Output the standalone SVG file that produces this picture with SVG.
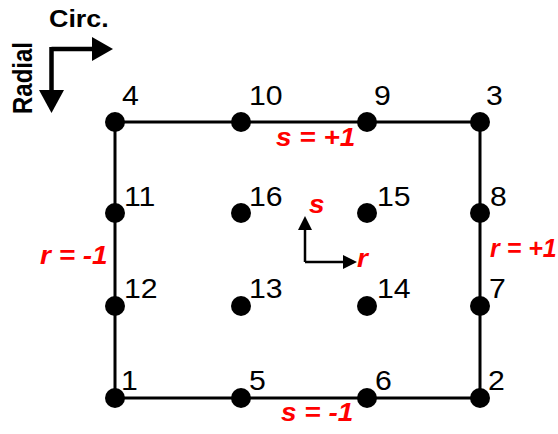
<svg xmlns="http://www.w3.org/2000/svg" width="558" height="434" viewBox="0 0 558 434">
<style>
.lbl{font-family:"Liberation Sans",Arial,sans-serif;font-size:27px;fill:#000}
.red{font-family:"Liberation Sans",Arial,sans-serif;font-size:25px;font-weight:bold;font-style:italic;fill:#f00}
.ax{font-family:"Liberation Sans",Arial,sans-serif;font-size:24px;font-weight:bold;fill:#000}
.dot{fill:#000}
.edge{stroke:#000;stroke-width:3;fill:none}
</style>
<rect width="558" height="434" fill="#fff"/>
<g id="axes">
<path d="M51.5,49 H93 M51.5,47 V91" stroke="#000" stroke-width="4.5" fill="none"/>
<polygon points="92,37 113,49 92,61" fill="#000"/>
<polygon points="39,90 51.5,113 64,90" fill="#000"/>
<text class="ax" transform="translate(49,27) scale(1.12,1)">Circ.</text>
<text class="ax" transform="translate(32,114) scale(1.12,1) rotate(-90)">Radial</text>
</g>
<g id="connectors">
<rect class="edge" x="115" y="122" width="365" height="276"/>
</g>
<g id="n1"><circle class="dot" cx="115" cy="398" r="10"/><text class="lbl" transform="translate(121,390) scale(1.12,1)">1</text></g>
<g id="n2"><circle class="dot" cx="480" cy="398" r="10"/><text class="lbl" transform="translate(488,390) scale(1.12,1)">2</text></g>
<g id="n3"><circle class="dot" cx="480" cy="122" r="10"/><text class="lbl" transform="translate(486,105) scale(1.12,1)">3</text></g>
<g id="n4"><circle class="dot" cx="115" cy="122" r="10"/><text class="lbl" transform="translate(122,105) scale(1.12,1)">4</text></g>
<g id="n5"><circle class="dot" cx="241" cy="398" r="10"/><text class="lbl" transform="translate(249,390) scale(1.12,1)">5</text></g>
<g id="n6"><circle class="dot" cx="367" cy="398" r="10"/><text class="lbl" transform="translate(375,390) scale(1.12,1)">6</text></g>
<g id="n7"><circle class="dot" cx="480" cy="306" r="10"/><text class="lbl" transform="translate(489,298) scale(1.12,1)">7</text></g>
<g id="n8"><circle class="dot" cx="480" cy="213" r="10"/><text class="lbl" transform="translate(490,206) scale(1.12,1)">8</text></g>
<g id="n9"><circle class="dot" cx="367" cy="122" r="10"/><text class="lbl" transform="translate(374,105) scale(1.12,1)">9</text></g>
<g id="n10"><circle class="dot" cx="241" cy="122" r="10"/><text class="lbl" transform="translate(249,105) scale(1.12,1)">10</text></g>
<g id="n11"><circle class="dot" cx="115" cy="213" r="10"/><text class="lbl" transform="translate(124,206) scale(1.12,1)">11</text></g>
<g id="n12"><circle class="dot" cx="115" cy="306" r="10"/><text class="lbl" transform="translate(124,298) scale(1.12,1)">12</text></g>
<g id="n13"><circle class="dot" cx="241" cy="306" r="10"/><text class="lbl" transform="translate(249,298) scale(1.12,1)">13</text></g>
<g id="n14"><circle class="dot" cx="367" cy="306" r="10"/><text class="lbl" transform="translate(377,298) scale(1.12,1)">14</text></g>
<g id="n15"><circle class="dot" cx="367" cy="213" r="10"/><text class="lbl" transform="translate(377,206) scale(1.12,1)">15</text></g>
<g id="n16"><circle class="dot" cx="241" cy="213" r="10"/><text class="lbl" transform="translate(249,206) scale(1.12,1)">16</text></g>
<g id="labels">
<text class="red" transform="translate(276,146) scale(1.12,1)">s = +1</text>
<text class="red" transform="translate(281,421) scale(1.12,1)">s = -1</text>
<text class="red" transform="translate(40,264) scale(1.12,1)">r = -1</text>
<text class="red" transform="translate(490,257)">r = +1</text>
</g>
<g id="rs-axes">
<path d="M305,262 V230 M305,262 H343" stroke="#000" stroke-width="2.5" fill="none"/>
<polygon points="298,230 305,216 312,230" fill="#000"/>
<polygon points="343,255 357,262 343,269" fill="#000"/>
<text class="red" transform="translate(309,213) scale(1.12,1)">s</text>
<text class="red" transform="translate(357,267) scale(1.12,1)">r</text>
</g>
</svg>
